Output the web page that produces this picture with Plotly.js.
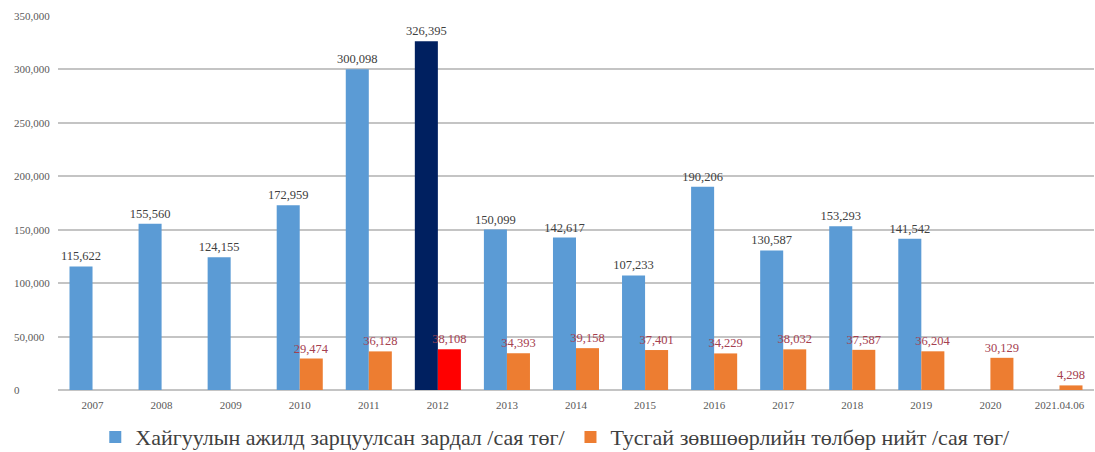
<!DOCTYPE html>
<html>
<head>
<meta charset="utf-8">
<script src="https://cdn.plot.ly/plotly-3.0.1.min.js"></script>
<style>html,body{margin:0;padding:0;background:#fff;}#chart{width:1095px;height:452px;}</style>
</head>
<body>
<div id="chart"></div>
<script>
const categories = ["2007","2008","2009","2010","2011","2012","2013","2014","2015","2016","2017","2018","2019","2020","2021.04.06"];
const explorationCost = [115622,155560,124155,172959,300098,326395,150099,142617,107233,190206,130587,153293,141542,null,null];
const licenseFees = [null,null,null,29474,36128,38108,34393,39158,37401,34229,38032,37587,36204,30129,4298];
const seriesNames = ["Хайгуулын ажилд зарцуулсан зардал /сая төг/","Тусгай зөвшөөрлийн төлбөр нийт /сая төг/"];
const yTicks = [0,50000,100000,150000,200000,250000,300000,350000];
const highlightCategory = "2012";

const blueColors = categories.map(c => c === highlightCategory ? "#002060" : "#5b9bd5");
const orangeColors = categories.map(c => c === highlightCategory ? "#ff0000" : "#ed7d31");

const serif = "Liberation Serif";

const traces = [
  {type:"bar", name:seriesNames[0], x:categories, y:explorationCost,
   marker:{color:blueColors}, texttemplate:"%{y:,}", textposition:"outside", constraintext:"none",
   textfont:{family:serif,size:12.5,color:"#404040"}, cliponaxis:false, hoverinfo:"x+y"},
  {type:"bar", name:seriesNames[1], x:categories, y:licenseFees,
   marker:{color:orangeColors}, texttemplate:"%{y:,}", textposition:"outside", constraintext:"none",
   textfont:{family:serif,size:12.5,color:"#a5404f"}, cliponaxis:false, hoverinfo:"x+y"}
];

const annotations = yTicks.map(v => ({
  xref:"paper", yref:"y", x:0, y:v, xshift:-46, xanchor:"left", yanchor:"middle",
  text: v.toLocaleString("en-US"), showarrow:false,
  font:{family:serif,size:11,color:"#595959"}
}));

const layout = {
  width:1095, height:452,
  margin:{l:58,r:1,t:16,b:62},
  paper_bgcolor:"#fff", plot_bgcolor:"#fff",
  barmode:"group", bargap:0.333, bargroupgap:0,
  showlegend:true,
  legend:{orientation:"h", x:0.48, xanchor:"center", yref:"container", y:0.033, yanchor:"middle",
          font:{family:serif,size:22,color:"#404040"}, itemwidth:30, tracegroupgap:0},
  xaxis:{type:"category", tickfont:{family:serif,size:11,color:"#595959"},
         showgrid:false, showline:false, ticks:"", ticklabelstandoff:7, automargin:false},
  yaxis:{range:[0,350000], tickvals:yTicks, showticklabels:false, automargin:false,
         showgrid:true, gridcolor:"#c4c4c4", gridwidth:2,
         zeroline:true, zerolinecolor:"#c4c4c4", zerolinewidth:2, showline:false},
  annotations:annotations,
  font:{family:serif}
};

Plotly.newPlot("chart", traces, layout, {displayModeBar:false, staticPlot:true});
</script>
</body>
</html>
